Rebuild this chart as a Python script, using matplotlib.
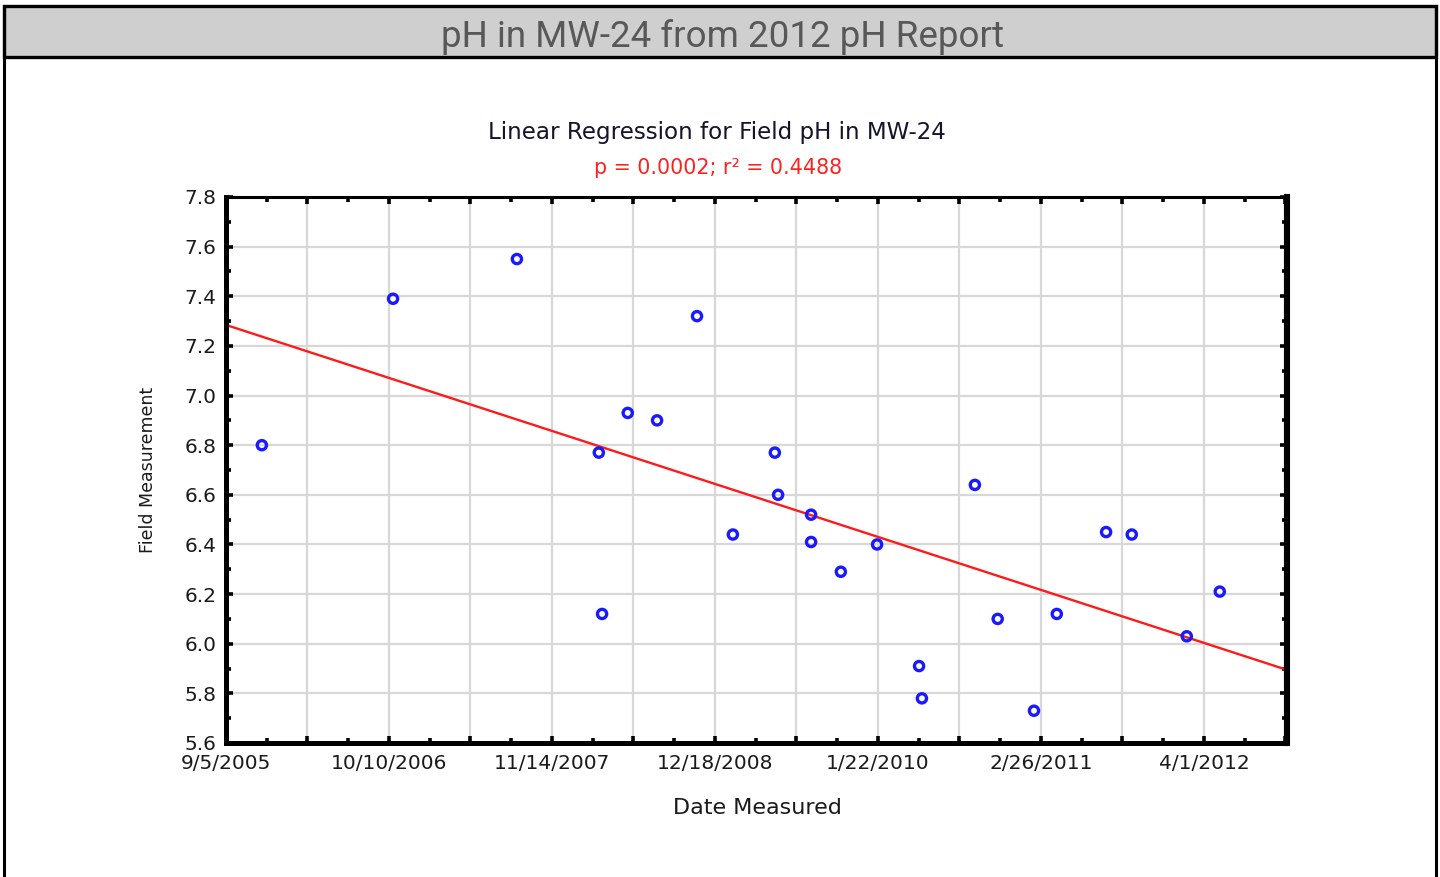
import datetime as dt
import numpy as np
import matplotlib
matplotlib.use("Agg")
import matplotlib.pyplot as plt
import matplotlib.dates as mdates
from matplotlib.patches import Rectangle
from matplotlib.lines import Line2D
from matplotlib.ticker import FixedLocator, FuncFormatter, MultipleLocator

# field pH readings for MW-24
sample_dates = [
    "2005-12-02", "2006-10-20", "2007-08-20", "2008-03-08", "2008-03-16",
    "2008-05-18", "2008-07-29", "2008-11-04", "2009-01-31", "2009-05-14",
    "2009-05-22", "2009-08-11", "2009-08-11", "2009-10-23", "2010-01-20",
    "2010-05-03", "2010-05-10", "2010-09-17", "2010-11-12", "2011-02-09",
    "2011-04-06", "2011-08-05", "2011-10-07", "2012-02-19", "2012-05-10",
]
ph_values = [
    6.80, 7.39, 7.55, 6.77, 6.12,
    6.93, 6.90, 7.32, 6.44, 6.77,
    6.60, 6.52, 6.41, 6.29, 6.40,
    5.91, 5.78, 6.64, 6.10, 5.73,
    6.12, 6.45, 6.44, 6.03, 6.21,
]
p_value = "0.0002"
r_squared = "0.4488"

start = dt.date(2005, 9, 5)
span_days = 2604
tick_step = 200

dates = [dt.datetime.strptime(s, "%Y-%m-%d") for s in sample_dates]
xnum = mdates.date2num(dates)
y = np.array(ph_values)
x0 = mdates.date2num(start)

fig = plt.figure(figsize=(14.4, 8.77), dpi=100)

# header band with outer frame
px_h = 877.0
fig.patches.append(Rectangle((4 / 1440, 1 - 57 / px_h), 1432 / 1440, 51 / px_h,
                             transform=fig.transFigure, facecolor="#d0cfd0",
                             edgecolor="black", linewidth=2.4, zorder=0))
fig.lines.append(Line2D([4 / 1440, 4 / 1440], [0, 1 - 6 / px_h],
                        transform=fig.transFigure, color="black", linewidth=2.2))
fig.lines.append(Line2D([1436 / 1440, 1436 / 1440], [0, 1 - 6 / px_h],
                        transform=fig.transFigure, color="black", linewidth=2.2))
fig.text(0.5015, 1 - 47 / px_h, "pH in MW-24 from 2012 pH Report",
         ha="center", va="baseline", fontsize=26.5, color="#585858",
         family=["Liberation Sans Narrow", "Roboto", "DejaVu Sans"])

ax = fig.add_axes([226 / 1440, 134 / px_h, 1061 / 1440, 546 / px_h])

ax.scatter(xnum, y, s=44, facecolors="none", edgecolors="#1a1aff",
           linewidths=2.4, zorder=3)

# least squares fit on day numbers
slope, intercept = np.polyfit(xnum - x0, y, 1)
xl = np.array([0, span_days])
ax.plot(x0 + xl, intercept + slope * xl, color="#ff1a1a", lw=1.7, zorder=2)

ax.set_xlim(x0, x0 + span_days)
ax.set_ylim(5.6, 7.8)

major = x0 + np.arange(0, span_days + 1, tick_step)
minor = x0 + np.arange(0, span_days + 1, tick_step // 2)
ax.xaxis.set_major_locator(FixedLocator(major))
ax.xaxis.set_minor_locator(FixedLocator(minor))


def date_label(v, pos):
    k = int(round(v - x0))
    if k % (2 * tick_step) != 0:
        return ""
    d = mdates.num2date(v)
    return f"{d.month}/{d.day}/{d.year}"


ax.xaxis.set_major_formatter(FuncFormatter(date_label))
ax.yaxis.set_major_locator(MultipleLocator(0.2))
ax.yaxis.set_minor_locator(MultipleLocator(0.1))
ax.yaxis.set_major_formatter(FuncFormatter(lambda v, p: f"{v:.1f}"))

ax.grid(True, which="major", color="#d8d8d8", lw=1.6, zorder=0)
ax.set_axisbelow(True)

for side, w in (("left", 3.6), ("bottom", 3.6), ("right", 4.4), ("top", 2.2)):
    ax.spines[side].set_linewidth(w)
    ax.spines[side].set_color("black")

ax.tick_params(which="both", direction="in", top=True, right=True,
               color="black", labelsize=14.5, labelcolor="#1a1a1a")
ax.tick_params(which="major", length=5, width=2.6)
ax.tick_params(which="minor", length=3.5, width=2.6)
ax.tick_params(axis="y", pad=7)
ax.tick_params(axis="x", pad=8)

fig.text(0.4975, 1 - 133 / px_h, "Linear Regression for Field pH in MW-24",
         ha="center", va="center", fontsize=16.6, color="#14142a")
fig.text(0.4985, 1 - 168 / px_h, f"p = {p_value}; r\u00b2 = {r_squared}",
         ha="center", va="center", fontsize=14.9, color="#ff2020")
fig.text(757 / 1440, 1 - 808 / px_h, "Date Measured",
         ha="center", va="center", fontsize=16, color="#1a1a1a")
fig.text(148 / 1440, 1 - 470 / px_h, "Field Measurement",
         ha="center", va="center", rotation=90, fontsize=12.5, color="#1a1a1a")

fig.savefig("out.png", dpi=100)
